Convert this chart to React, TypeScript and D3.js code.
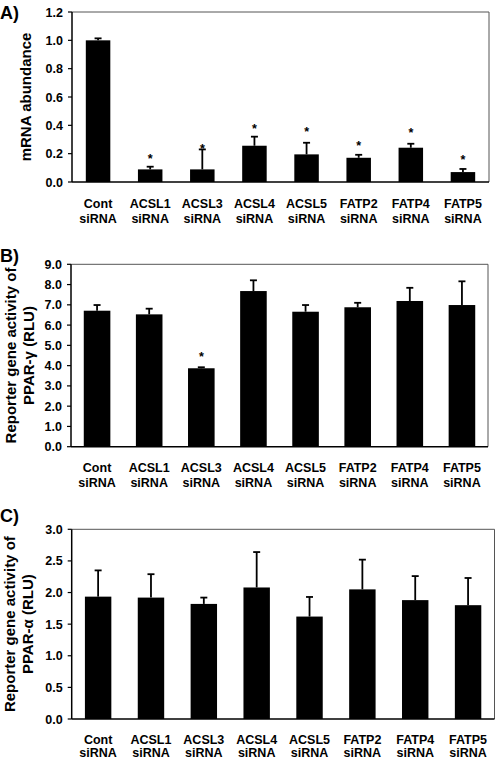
import React from "react";
import * as d3 from "d3";

const categories = ["Cont", "ACSL1", "ACSL3", "ACSL4", "ACSL5", "FATP2", "FATP4", "FATP5"];
const subLabel = "siRNA";

const mrnaMean = [1.0, 0.089, 0.089, 0.256, 0.195, 0.171, 0.242, 0.07];
const mrnaErr = [0.014, 0.019, 0.141, 0.064, 0.082, 0.021, 0.028, 0.022];
const mrnaStars = [null, 0.183, 0.252, 0.394, 0.371, 0.272, 0.366, 0.174];
const mrnaTicks = [0, 0.2, 0.4, 0.6, 0.8, 1.0, 1.2];

const pparGMean = [6.71, 6.53, 3.87, 7.68, 6.66, 6.88, 7.19, 6.99];
const pparGErr = [0.28, 0.28, 0.05, 0.53, 0.33, 0.22, 0.65, 1.17];
const pparGStars = [null, null, 4.57, null, null, null, null, null];
const pparGTicks = [0, 1, 2, 3, 4, 5, 6, 7, 8, 9];

const pparAMean = [1.935, 1.92, 1.82, 2.08, 1.62, 2.05, 1.88, 1.8];
const pparAErr = [0.415, 0.37, 0.1, 0.56, 0.31, 0.47, 0.38, 0.43];
const pparAStars = [null, null, null, null, null, null, null, null];
const pparATicks = [0, 0.5, 1.0, 1.5, 2.0, 2.5, 3.0];

const FONT = "'Liberation Sans', Arial, Helvetica, sans-serif";

type PanelProps = {
  letter: string;
  titleLines: string[];
  titleX: number[];
  means: number[];
  errs: number[];
  stars: (number | null)[];
  ticks: number[];
  x0: number;
  x1: number;
  y0: number;
  y1: number;
  pad: number;
  letterY: number;
  labelDy: number[];
};

function Panel(p: PanelProps) {
  const x = d3
    .scaleBand<string>()
    .domain(categories)
    .range([p.x0, p.x1])
    .paddingInner(p.pad)
    .paddingOuter(p.pad / 2);
  const max = p.ticks[p.ticks.length - 1];
  const y = d3.scaleLinear().domain([0, max]).range([p.y1, p.y0]);
  const bw = x.bandwidth();
  const capW = 7;
  const midY = (p.y0 + p.y1) / 2;
  return (
    <g fontFamily={FONT} fontWeight="bold">
      <text x={0} y={p.letterY} fontSize={18}>
        {p.letter}
      </text>
      {p.titleLines.map((t, i) => (
        <text
          key={i}
          transform={`translate(${p.titleX[i]},${midY}) rotate(-90)`}
          textAnchor="middle"
          dominantBaseline="central"
          fontSize={15}
        >
          {t}
        </text>
      ))}
      {/* frame */}
      <line x1={p.x0} x2={p.x1} y1={p.y0} y2={p.y0} stroke="#555" strokeWidth={1} />
      <line x1={p.x1} x2={p.x1} y1={p.y0} y2={p.y1} stroke="#555" strokeWidth={1} />
      {/* bars */}
      {p.means.map((m, i) => {
        const bx = x(categories[i])!;
        return (
          <rect key={i} x={bx} y={y(m)} width={bw} height={y(0) - y(m)} fill="#000" />
        );
      })}
      {/* error bars */}
      {p.means.map((m, i) => {
        const cx = x(categories[i])! + bw / 2;
        const top = y(m + p.errs[i]);
        return (
          <g key={i} stroke="#000" strokeWidth={1.8}>
            <line x1={cx} x2={cx} y1={y(m)} y2={top} />
            <line x1={cx - capW / 2} x2={cx + capW / 2} y1={top} y2={top} />
          </g>
        );
      })}
      {/* stars */}
      {p.stars.map((s, i) =>
        s == null ? null : (
          <text
            key={i}
            x={x(categories[i])! + bw / 2}
            y={y(s) + 7}
            textAnchor="middle"
            fontSize={12.5}
          >
            *
          </text>
        )
      )}
      {/* axes */}
      <line x1={p.x0} x2={p.x0} y1={p.y0} y2={p.y1} stroke="#000" strokeWidth={1.5} />
      <line x1={p.x0} x2={p.x1} y1={p.y1} y2={p.y1} stroke="#000" strokeWidth={1.5} />
      {p.ticks.map((t, i) => (
        <g key={i}>
          <line x1={p.x0 - 4} x2={p.x0} y1={y(t)} y2={y(t)} stroke="#000" strokeWidth={1.2} />
          <text x={p.x0 - 9} y={y(t)} dy="0.36em" textAnchor="end" fontSize={12.5}>
            {d3.format(".1f")(t)}
          </text>
        </g>
      ))}
      {categories.map((c, i) => {
        const cx = x(c)! + bw / 2;
        return (
          <g key={c} fontSize={12.5} textAnchor="middle">
            <text x={cx} y={p.y1 + p.labelDy[0]}>
              {c}
            </text>
            <text x={cx} y={p.y1 + p.labelDy[1]}>
              {subLabel}
            </text>
          </g>
        );
      })}
    </g>
  );
}

export default function App() {
  return (
    <svg
      width={498}
      height={760}
      style={{ position: "absolute", left: 0, top: 0, background: "#fff" }}
    >
      <rect width={498} height={760} fill="#fff" />
      <Panel
        letter="A)"
        titleLines={["mRNA abundance"]}
        titleX={[25]}
        means={mrnaMean}
        errs={mrnaErr}
        stars={mrnaStars}
        ticks={mrnaTicks}
        x0={72}
        x1={489}
        y0={12}
        y1={182}
        pad={0.53}
        letterY={19}
        labelDy={[26, 41]}
      />
      <Panel
        letter="B)"
        titleLines={["Reporter gene activity of", "PPAR-γ (RLU)"]}
        titleX={[10, 28]}
        means={pparGMean}
        errs={pparGErr}
        stars={pparGStars}
        ticks={pparGTicks}
        x0={71}
        x1={488}
        y0={264.3}
        y1={446.7}
        pad={0.49}
        letterY={262}
        labelDy={[25.5, 40.5]}
      />
      <Panel
        letter="C)"
        titleLines={["Reporter gene activity of", "PPAR-α (RLU)"]}
        titleX={[9, 27]}
        means={pparAMean}
        errs={pparAErr}
        stars={pparAStars}
        ticks={pparATicks}
        x0={71.7}
        x1={494.5}
        y0={529.3}
        y1={719}
        pad={0.5}
        letterY={522}
        labelDy={[24.5, 38]}
      />
    </svg>
  );
}
